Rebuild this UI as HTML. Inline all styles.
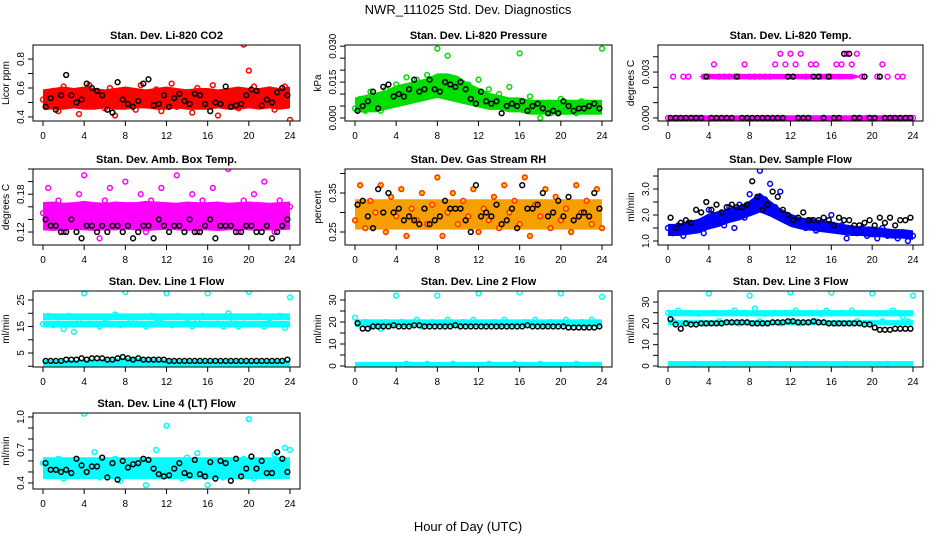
<!DOCTYPE html>
<html><head><meta charset="utf-8"><title>NWR_111025 Std. Dev. Diagnostics</title>
<style>
html,body{margin:0;padding:0;background:#fff;}
svg text{font-family:"Liberation Sans",sans-serif;fill:#000;}
</style></head>
<body>
<svg id="chart" xmlns="http://www.w3.org/2000/svg" width="936" height="540" viewBox="0 0 936 540">
<rect x="0" y="0" width="936" height="540" fill="#fff"/>
<text x="468" y="14" text-anchor="middle" font-size="13">NWR_111025  Std. Dev. Diagnostics</text>
<text x="468" y="531" text-anchor="middle" font-size="13">Hour of Day (UTC)</text>
</svg>
<script>
// ---- data ----
const co2Red=[0.52,0.47,0.58,0.44,0.61,0.50,0.55,0.42,0.57,0.62,0.49,0.53,0.46,0.60,0.41,0.56,0.51,0.58,0.45,0.62,0.48,0.55,0.59,0.44,0.53,0.63,0.47,0.51,0.57,0.43,0.60,0.49,0.54,0.62,0.41,0.56,0.50,0.58,0.46,0.90,0.72,0.61,0.48,0.55,0.59,0.45,0.53,0.61,0.38];
const co2Black=[0.47,0.53,0.45,0.55,0.69,0.55,0.50,0.52,0.63,0.60,0.58,0.55,0.45,0.43,0.64,0.52,0.49,0.47,0.51,0.63,0.66,0.48,0.49,0.55,0.47,0.53,0.56,0.51,0.49,0.56,0.55,0.49,0.44,0.50,0.49,0.61,0.47,0.48,0.49,0.55,0.59,0.58,0.48,0.52,0.50,0.57,0.60,0.55];
const co2Lo=[0.47,0.46,0.46,0.47,0.46,0.46,0.47,0.46,0.46,0.47,0.47,0.46,0.46,0.47,0.46,0.46,0.46,0.47,0.46,0.46,0.47,0.46,0.47,0.46,0.47];
const co2Hi=[0.58,0.59,0.60,0.59,0.60,0.59,0.58,0.59,0.60,0.59,0.58,0.59,0.60,0.59,0.58,0.59,0.59,0.58,0.59,0.60,0.59,0.59,0.60,0.59,0.60];

const presGreen=[0.004,0.008,0.003,0.011,0.006,0.003,0.012,0.007,0.014,0.010,0.017,0.009,0.016,0.012,0.018,0.011,0.029,0.014,0.026,0.012,0.015,0.010,0.014,0.009,0.016,0.008,0.012,0.006,0.010,0.005,0.013,0.004,0.027,0.006,0.009,0.003,0.000,0.006,0.002,0.005,0.008,0.003,0.006,0.002,0.007,0.004,0.006,0.003,0.029];
const presBlack=[0.003,0.005,0.007,0.011,0.004,0.013,0.014,0.009,0.010,0.009,0.012,0.016,0.011,0.012,0.016,0.012,0.011,0.015,0.014,0.013,0.015,0.012,0.008,0.006,0.011,0.007,0.006,0.007,0.002,0.005,0.006,0.005,0.007,0.003,0.005,0.006,0.004,0.002,0.003,0.002,0.007,0.005,0.003,0.004,0.004,0.005,0.006,0.004];
const presLo=[0.003,0.003,0.003,0.004,0.005,0.006,0.007,0.008,0.009,0.008,0.007,0.006,0.005,0.004,0.004,0.003,0.003,0.002,0.002,0.002,0.002,0.002,0.002,0.002,0.002];
const presHi=[0.008,0.009,0.010,0.011,0.013,0.014,0.015,0.016,0.018,0.018,0.017,0.014,0.012,0.010,0.009,0.008,0.008,0.007,0.007,0.007,0.007,0.007,0.007,0.007,0.007];

const tempMag=[0,0.0027,0,0.0027,0.0027,0,0,0.0027,0.0027,0.0035,0.0027,0.0027,0.0027,0.0027,0.0027,0.0035,0.0027,0.0027,0.0027,0.0027,0.0027,0.0035,0.0042,0.0035,0.0042,0.0035,0.0042,0.0027,0.0035,0.0035,0.0027,0.0027,0.0027,0.0035,0.0035,0.0042,0.0035,0.0042,0.0027,0,0,0.0027,0.0035,0.0027,0,0.0027,0.0027,0,0];
const tempBlack=[0,0,0,0,0,0,0,0.0027,0,0,0,0,0,0.0027,0,0,0,0,0,0,0,0,0,0.0027,0.0027,0,0,0,0.0027,0.0027,0,0.0027,0,0,0.0042,0.0042,0,0,0.0027,0,0,0.0027,0,0,0,0,0,0];
const tempLo=[-0.00008,-0.00008,-0.00008,-0.00008,-0.00008,-0.00008,-0.00008,-0.00008,-0.00008,-0.00008,-0.00008,-0.00008,-0.00008,-0.00008,-0.00008,-0.00008,-0.00008,-0.00008,-0.00008,-0.00008,-0.00008,-0.00008,-0.00008,-0.00008,-0.00008];
const tempHi=[0.00008,0.00008,0.00008,0.00008,0.00008,0.00008,0.00008,0.00008,0.00008,0.00008,0.00008,0.00008,0.00008,0.00008,0.00008,0.00008,0.00008,0.00008,0.00008,0.00008,0.00008,0.00008,0.00008,0.00008,0.00008];
const tempMidLo=[0.0027,0.0027,0.0027,0.0027,0.00262,0.00262,0.00262,0.00262,0.00262,0.00262,0.00262,0.00262,0.00262,0.00262,0.00262,0.00262,0.00262,0.00262,0.00262,0.0027,0.0027,0.0027,0.0027,0.0027,0.0027];
const tempMidHi=[0.0027,0.0027,0.0027,0.0027,0.00278,0.00278,0.00278,0.00278,0.00278,0.00278,0.00278,0.00278,0.00278,0.00278,0.00278,0.00278,0.00278,0.00278,0.00278,0.0027,0.0027,0.0027,0.0027,0.0027,0.0027];

const ambMag=[0.15,0.19,0.13,0.17,0.12,0.16,0.14,0.18,0.21,0.13,0.15,0.11,0.17,0.19,0.14,0.16,0.20,0.13,0.15,0.18,0.12,0.17,0.14,0.19,0.13,0.16,0.21,0.14,0.15,0.18,0.12,0.17,0.14,0.19,0.13,0.16,0.22,0.15,0.12,0.17,0.14,0.18,0.13,0.20,0.15,0.12,0.17,0.14,0.16];
const ambBlack=[0.14,0.13,0.13,0.12,0.12,0.14,0.12,0.11,0.13,0.13,0.12,0.13,0.12,0.13,0.13,0.12,0.13,0.11,0.12,0.13,0.13,0.11,0.14,0.13,0.12,0.13,0.13,0.12,0.14,0.12,0.12,0.13,0.14,0.11,0.13,0.13,0.13,0.12,0.12,0.13,0.13,0.12,0.12,0.13,0.11,0.12,0.13,0.14];
const ambLo=[0.125,0.124,0.125,0.126,0.125,0.124,0.125,0.125,0.126,0.125,0.124,0.125,0.126,0.125,0.124,0.125,0.125,0.124,0.125,0.126,0.125,0.124,0.125,0.125,0.126];
const ambHi=[0.165,0.166,0.164,0.165,0.167,0.165,0.164,0.166,0.165,0.165,0.167,0.166,0.165,0.164,0.166,0.165,0.165,0.166,0.164,0.165,0.166,0.165,0.164,0.165,0.166];

const rhOrange=[0.28,0.37,0.26,0.33,0.30,0.37,0.25,0.34,0.29,0.36,0.24,0.31,0.28,0.35,0.27,0.32,0.39,0.24,0.30,0.35,0.27,0.33,0.29,0.36,0.25,0.31,0.28,0.34,0.26,0.37,0.30,0.33,0.27,0.39,0.24,0.32,0.29,0.36,0.26,0.34,0.28,0.31,0.25,0.37,0.30,0.33,0.27,0.36,0.26];
const rhBlack=[0.32,0.33,0.29,0.26,0.36,0.30,0.35,0.30,0.31,0.28,0.29,0.28,0.27,0.31,0.27,0.28,0.29,0.33,0.31,0.31,0.31,0.28,0.25,0.37,0.29,0.30,0.29,0.32,0.27,0.28,0.31,0.26,0.37,0.31,0.31,0.32,0.35,0.29,0.30,0.33,0.29,0.34,0.28,0.29,0.30,0.29,0.35,0.31];
const rhLo=[0.26,0.26,0.26,0.26,0.26,0.26,0.26,0.26,0.26,0.26,0.26,0.26,0.26,0.26,0.26,0.26,0.26,0.26,0.26,0.26,0.26,0.26,0.26,0.26,0.26];
const rhHi=[0.33,0.33,0.33,0.33,0.33,0.33,0.33,0.33,0.33,0.33,0.33,0.33,0.33,0.33,0.33,0.33,0.33,0.33,0.33,0.33,0.33,0.33,0.33,0.33,0.33];

const sfBlue=[1.5,1.3,1.6,1.2,1.7,1.4,1.5,1.3,2.2,1.8,2.0,1.6,2.3,1.5,2.4,1.9,2.8,2.3,3.7,2.6,3.2,2.3,2.9,2.0,1.9,1.7,1.8,1.5,1.8,1.4,1.7,1.6,2.0,1.4,1.6,1.1,1.5,1.3,1.5,1.2,1.4,1.1,1.5,1.2,1.3,1.1,1.3,1.0,1.2];
const sfBlack=[1.9,1.5,1.7,1.8,1.7,2.2,2.1,2.5,2.2,2.4,2.1,2.3,2.4,2.3,2.3,2.4,3.3,2.7,2.2,2.4,2.9,2.7,2.2,2.0,1.8,1.9,2.1,1.8,1.8,1.8,1.9,1.8,1.6,1.9,1.8,1.8,1.6,1.6,1.7,1.8,1.6,1.9,1.7,1.9,1.6,1.8,1.8,1.9];
const sfLo=[1.25,1.25,1.3,1.35,1.5,1.6,1.75,1.85,2.0,2.15,2.0,1.8,1.6,1.5,1.45,1.4,1.35,1.3,1.25,1.25,1.2,1.2,1.15,1.15,1.1];
const sfHi=[1.6,1.6,1.7,1.8,2.0,2.1,2.2,2.3,2.5,2.8,2.5,2.2,2.0,1.85,1.8,1.75,1.7,1.6,1.55,1.5,1.5,1.45,1.4,1.4,1.35];

const l1Cyan=[16,19,15.5,18.5,14,19,13,17,27.5,18.5,16,15,18,16,19.5,15.5,28,17,18.5,16,15,19,16.5,18,27.5,15.5,19,16,18,15,17.5,19,27.5,16,18.5,15,20,17,15,18.5,28,16,19,15,18,16,19,14.5,26];
const l1Black=[2,2,2,2,2.5,2.5,2.5,3,2.5,3,3,3,2.5,2.5,3,3.5,3,2.5,3,2.5,2.5,2.5,2.5,2.5,2,2,2,2,2,2,2,2,2,2,2,2,2,2,2,2,2,2,2,2,2,2,2,2.5];
const l1LoA=[15.2,15.2,15.2,15.2,15.2,15.2,15.2,15.2,15.2,15.2,15.2,15.2,15.2,15.2,15.2,15.2,15.2,15.2,15.2,15.2,15.2,15.2,15.2,15.2,15.2];
const l1HiA=[16.6,16.6,16.6,16.6,16.6,16.6,16.6,16.6,16.6,16.6,16.6,16.6,16.6,16.6,16.6,16.6,16.6,16.6,16.6,16.6,16.6,16.6,16.6,16.6,16.6];
const l1LoB=[18,18,18,18,18,18,18,18,18,18,18,18,18,18,18,18,18,18,18,18,18,18,18,18,18];
const l1HiB=[19.4,19.4,19.4,19.4,19.4,19.4,19.4,19.4,19.4,19.4,19.4,19.4,19.4,19.4,19.4,19.4,19.4,19.4,19.4,19.4,19.4,19.4,19.4,19.4,19.4];
const l1LoC=[0.5,0.5,0.5,0.5,0.5,0.5,0.5,0.5,0.5,0.5,0.5,0.5,0.5,0.5,0.5,0.5,0.5,0.5,0.5,0.5,0.5,0.5,0.5,0.5,0.5];
const l1HiC=[1.8,1.8,1.8,1.8,2.0,2.0,2.2,2.4,2.6,2.6,2.4,2.2,2.0,1.8,1.8,1.8,1.8,1.8,1.8,1.8,1.8,1.8,1.8,1.8,1.8];

const l2Cyan=[22,19,20,18,19.5,17,20,18.5,32,20,1,19,21,18,1,20,32,19,21,1,18.5,20,19,21,33,19,1,20,18.5,21,19,1,33.5,20,19,21,1,18.5,20,19,33,21,19,1,20,18.5,21,19,31.5];
const l2Black=[19.5,17,17,18,18,18,18,18.5,18,18,18,18.5,18.5,18,18,18,18,18,18,18.5,18,18,18,18,18,18,18,18,18,18,18,18,18,18.5,18,18,18,18,18,18,18,17.5,17.5,17.5,17.5,17.5,17.5,18];
const l2LoA=[18.5,18.5,18.5,18.5,18.5,18.5,18.5,18.5,18.5,18.5,18.5,18.5,18.5,18.5,18.5,18.5,18.5,18.5,18.5,18.5,18.5,18.5,18.5,18.5,18.5];
const l2HiA=[20.5,20.5,20.5,20.5,20.5,20.5,20.5,20.5,20.5,20.5,20.5,20.5,20.5,20.5,20.5,20.5,20.5,20.5,20.5,20.5,20.5,20.5,20.5,20.5,20.5];
const l2LoB=[0.5,0.5,0.5,0.5,0.5,0.5,0.5,0.5,0.5,0.5,0.5,0.5,0.5,0.5,0.5,0.5,0.5,0.5,0.5,0.5,0.5,0.5,0.5,0.5,0.5];
const l2HiB=[1.2,1.2,1.2,1.2,1.2,1.2,1.2,1.2,1.2,1.2,1.2,1.2,1.2,1.2,1.2,1.2,1.2,1.2,1.2,1.2,1.2,1.2,1.2,1.2,1.2];

const l3Cyan=[25,21,26,20,25,1,24.5,20,34,25,21,1,25,26,20,25,33,27,21,24.5,1,25,20,25,34.5,26,20,1,25,21,24.5,26,34.5,20,25,1,26,21,25,20,34,24.5,21,1,26,25,23,21,33];
const l3Black=[22,19.5,17.5,20,19.5,19.5,20,20,20,20,20,20.5,20.5,20.5,20.5,20.5,20,20,20,20,20.5,20.5,20.5,21,21,20.5,20.5,20.5,21,20.5,20.5,20,20,20,20,20,20,20,19.5,19.5,18,17,17,17,17.5,17.5,17.5,17.5];
const l3LoA=[24,24,24,24,24,24,24,24,24,24,24,24,24,24,24,24,24,24,24,24,24,24,24,24,24];
const l3HiA=[25.5,25.5,25.5,25.5,25.5,25.5,25.5,25.5,25.5,25.5,25.5,25.5,25.5,25.5,25.5,25.5,25.5,25.5,25.5,25.5,25.5,25.5,25.5,25.5,25.5];
const l3LoB=[19.8,19.8,19.8,19.8,19.8,19.8,19.8,19.8,19.8,19.8,19.8,19.8,19.8,19.8,19.8,19.8,19.8,19.8,19.8,19.8,19.8,19.8,19.8,19.8,19.8];
const l3HiB=[20.8,20.8,20.8,20.8,20.8,20.8,20.8,20.8,20.8,20.8,20.8,20.8,20.8,20.8,20.8,20.8,20.8,20.8,20.8,20.8,20.8,20.8,20.8,20.8,20.8];
const l3LoC=[0.6,0.6,0.6,0.6,0.6,0.6,0.6,0.6,0.6,0.6,0.6,0.6,0.6,0.6,0.6,0.6,0.6,0.6,0.6,0.6,0.6,0.6,0.6,0.6,0.6];
const l3HiC=[1.6,1.6,1.6,1.6,1.6,1.6,1.6,1.6,1.6,1.6,1.6,1.6,1.6,1.6,1.6,1.6,1.6,1.6,1.6,1.6,1.6,1.6,1.6,1.6,1.6];

const l4Cyan=[0.58,0.47,0.55,0.62,0.44,0.52,0.60,0.48,1.03,0.55,0.68,0.45,0.58,0.50,0.62,0.42,0.57,0.53,0.60,0.47,0.38,0.55,0.70,0.49,0.92,0.52,0.58,0.44,0.63,0.50,0.67,0.47,0.38,0.55,0.60,0.45,0.52,0.58,0.48,0.62,0.98,0.44,0.55,0.60,0.50,0.66,0.47,0.72,0.70];
const l4Black=[0.58,0.52,0.52,0.50,0.52,0.49,0.62,0.56,0.50,0.55,0.55,0.63,0.45,0.58,0.43,0.60,0.54,0.57,0.58,0.62,0.61,0.53,0.48,0.46,0.47,0.53,0.58,0.49,0.47,0.61,0.48,0.46,0.59,0.44,0.60,0.58,0.42,0.62,0.46,0.53,0.64,0.53,0.60,0.49,0.49,0.68,0.62,0.50];
const l4Lo=[0.45,0.45,0.45,0.45,0.45,0.45,0.45,0.45,0.45,0.45,0.45,0.45,0.45,0.45,0.45,0.45,0.45,0.45,0.45,0.45,0.45,0.45,0.45,0.45,0.45];
const l4Hi=[0.62,0.62,0.62,0.62,0.62,0.62,0.62,0.62,0.62,0.62,0.62,0.62,0.62,0.62,0.62,0.62,0.62,0.62,0.62,0.62,0.62,0.62,0.62,0.62,0.62];

const xTickLabels=["0","4","8","12","16","20","24"];
const xTickValues=[0,4,8,12,16,20,24];

// ---- layout ----
const NS="http://www.w3.org/2000/svg";
const svg=document.getElementById('chart');
const colL=[33,345,658], colR=[300,612,923];
const rowT=[45,169,291,413], PH=76;

const panels=[
 {name:'co2',title:'Stan. Dev. Li-820 CO2',ylab:'Licor ppm',c:0,r:0,yb:0.372,yt:0.897,ticks:[0.4,0.5,0.6,0.7,0.8],labels:[[0.4,'0.4'],[0.6,'0.6'],[0.8,'0.8']],color:'#ff0000',fill:'none',col:co2Red,blk:co2Black,bands:[[co2Lo,co2Hi]]},
 {name:'pressure',title:'Stan. Dev. Li-820 Pressure',ylab:'kPa',c:1,r:0,yb:-0.00125,yt:0.0305,ticks:[0,0.005,0.01,0.015,0.02,0.025,0.03],labels:[[0,'0.000'],[0.015,'0.015'],[0.03,'0.030']],color:'#00dd00',fill:'none',col:presGreen,blk:presBlack,bands:[[presLo,presHi]]},
 {name:'temp',title:'Stan. Dev. Li-820 Temp.',ylab:'degrees C',c:2,r:0,yb:-0.0002,yt:0.00477,ticks:[0,0.001,0.002,0.003,0.004],labels:[[0,'0.000'],[0.003,'0.003']],color:'#ff00ff',fill:'none',col:tempMag,blk:tempBlack,bands:[[tempLo,tempHi],[tempMidLo,tempMidHi]]},
 {name:'amb-box-temp',title:'Stan. Dev. Amb. Box Temp.',ylab:'degrees C',c:0,r:1,yb:0.0994,yt:0.22,ticks:[0.12,0.14,0.16,0.18,0.20,0.22],labels:[[0.12,'0.12'],[0.18,'0.18']],color:'#ff00ff',fill:'none',col:ambMag,blk:ambBlack,bands:[[ambLo,ambHi]]},
 {name:'gas-rh',title:'Stan. Dev. Gas Stream RH',ylab:'percent',c:1,r:1,yb:0.2167,yt:0.4115,ticks:[0.25,0.30,0.35,0.40],labels:[[0.25,'0.25'],[0.35,'0.35']],color:'#ff3300',fill:'#ffcc00',bandColor:'#f5a000',col:rhOrange,blk:rhBlack,bands:[[rhLo,rhHi]]},
 {name:'sample-flow',title:'Stan. Dev. Sample Flow',ylab:'ml/min',c:2,r:1,yb:0.846,yt:3.77,ticks:[1,1.5,2,2.5,3,3.5],labels:[[1,'1.0'],[2,'2.0'],[3,'3.0']],color:'#0000ff',fill:'none',col:sfBlue,blk:sfBlack,bands:[[sfLo,sfHi]]},
 {name:'line1-flow',title:'Stan. Dev. Line 1 Flow',ylab:'ml/min',c:0,r:2,yb:-0.28,yt:28.4,ticks:[0,5,10,15,20,25],labels:[[5,'5'],[15,'15'],[25,'25']],color:'#00ffff',fill:'none',col:l1Cyan,blk:l1Black,bands:[[l1LoA,l1HiA],[l1LoB,l1HiB],[l1LoC,l1HiC]]},
 {name:'line2-flow',title:'Stan. Dev. Line 2 Flow',ylab:'ml/min',c:1,r:2,yb:-0.45,yt:34.1,ticks:[0,5,10,15,20,25,30],labels:[[0,'0'],[10,'10'],[20,'20'],[30,'30']],color:'#00ffff',fill:'none',col:l2Cyan,blk:l2Black,bands:[[l2LoA,l2HiA],[l2LoB,l2HiB]]},
 {name:'line3-flow',title:'Stan. Dev. Line 3 Flow',ylab:'ml/min',c:2,r:2,yb:-0.47,yt:35.2,ticks:[0,5,10,15,20,25,30],labels:[[0,'0'],[10,'10'],[20,'20'],[30,'30']],color:'#00ffff',fill:'none',col:l3Cyan,blk:l3Black,bands:[[l3LoA,l3HiA],[l3LoB,l3HiB],[l3LoC,l3HiC]]},
 {name:'line4-flow',title:'Stan. Dev. Line 4 (LT) Flow',ylab:'ml/min',c:0,r:3,yb:0.345,yt:1.036,ticks:[0.4,0.5,0.6,0.7,0.8,0.9,1.0],labels:[[0.4,'0.4'],[0.7,'0.7'],[1.0,'1.0']],color:'#00ffff',fill:'none',col:l4Cyan,blk:l4Black,bands:[[l4Lo,l4Hi]]}
];

function mk(tag,attrs,parent){const e=document.createElementNS(NS,tag);for(const k in attrs)e.setAttribute(k,attrs[k]);(parent||svg).appendChild(e);return e;}

panels.forEach(p=>{
  const L=colL[p.c],R=colR[p.c],T=rowT[p.r],B=T+PH;
  const xs=v=>L+10+v/24*(R-L-20);
  const ys=v=>B-(v-p.yb)/(p.yt-p.yb)*(B-T);
  const g=mk('g',{});
  
  
  const clipId='clip-'+p.name;
  const cp=mk('clipPath',{id:clipId},g);
  mk('rect',{x:L,y:T,width:R-L,height:B-T},cp);
  const t=mk('text',{x:(L+R)/2,y:T-6,'text-anchor':'middle','font-size':'11','font-weight':'bold'},g);
  t.textContent=p.title;
  
  
  const yl=mk('text',{x:0,y:0,'text-anchor':'middle','font-size':'10',transform:`translate(${L-24},${(T+B)/2}) rotate(-90)`},g);
  yl.textContent=p.ylab;
  
  
  const marks=mk('g',{'clip-path':`url(#${clipId})`},g);
  p.bands.forEach(bd=>{
    const lo=bd[0],hi=bd[1];let pts=[];
    const pad=i=>(hi[i]>lo[i]?1.5:0);
    for(let i=0;i<hi.length;i++)pts.push(xs(i*24/(hi.length-1))+','+(ys(hi[i])-pad(i)));
    for(let i=lo.length-1;i>=0;i--)pts.push(xs(i*24/(lo.length-1))+','+(ys(lo[i])+pad(i)));
    const poly=mk('polygon',{points:pts.join(' '),fill:p.bandColor||p.color},marks);
    
    
  });
  p.col.forEach((v,i)=>{
    const c=mk('circle',{cx:xs(i*24/(p.col.length-1)),cy:ys(v),r:2.4,fill:p.fill,stroke:p.color,'stroke-width':1.5},marks);
    
    
  });
  p.blk.forEach((v,i)=>{
    const c=mk('circle',{cx:xs((i+0.5)*24/p.blk.length),cy:ys(v),r:2.4,fill:'none',stroke:'#000','stroke-width':1.5},marks);
    
    
  });
  const box=mk('rect',{x:L,y:T,width:R-L,height:B-T,fill:'none',stroke:'#000','stroke-width':1},g);
  
  
  xTickValues.forEach((v,i)=>{
    mk('line',{x1:xs(v),x2:xs(v),y1:B,y2:B+5,stroke:'#000'},g);
    const tl=mk('text',{x:xs(v),y:B+18,'text-anchor':'middle','font-size':'10'},g);
    tl.textContent=xTickLabels[i];
    
    
  });
  p.ticks.forEach(v=>{
    const y=ys(v); if(y<T-1||y>B+1)return;
    mk('line',{x1:L-5,x2:L,y1:y,y2:y,stroke:'#000'},g);
  });
  p.labels.forEach(lb=>{
    const y=ys(lb[0]);
    const tl=mk('text',{x:0,y:0,'text-anchor':'middle','font-size':'10',transform:`translate(${L-9},${y}) rotate(-90)`},g);
    tl.textContent=lb[1];
    
    
  });
});
</script>
</body></html>
